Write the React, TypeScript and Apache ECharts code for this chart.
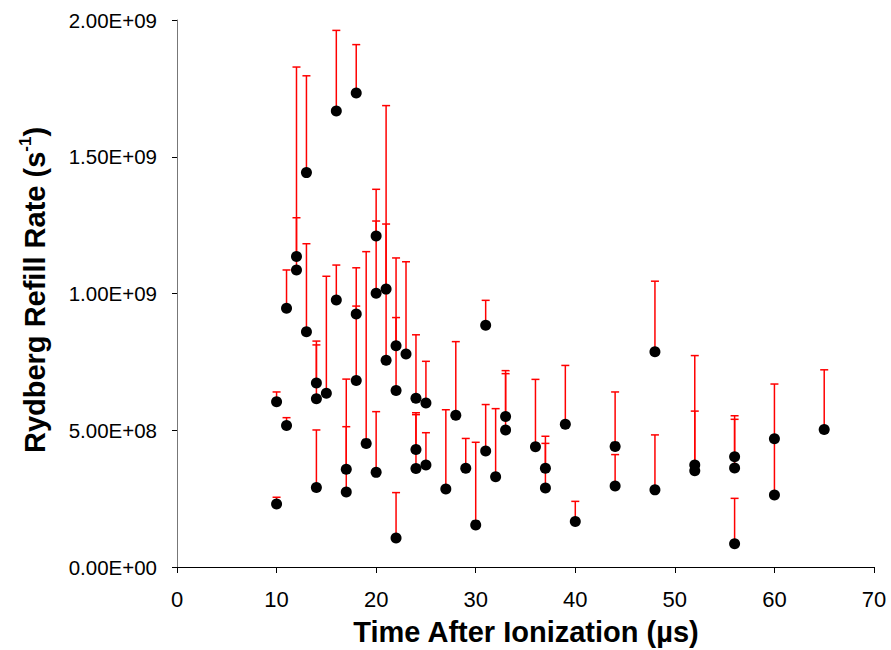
import React, { useEffect, useRef } from "react";
import * as echarts from "echarts";

const xValues = [
  10, 10, 11, 11, 12, 12, 13, 13, 14, 14, 14, 15, 16, 16, 17, 17, 18, 18, 18, 19,
  20, 20, 20, 21, 21, 22, 22, 22, 23, 24, 24, 24, 25, 25, 27, 28, 29, 30, 31, 31,
  32, 33, 33, 36, 37, 37, 39, 40, 44, 44, 48, 48, 52, 52, 56, 56, 56, 60, 60, 65,
];
const rateValues = [
  6.04e8, 2.3e8, 9.46e8, 5.17e8, 1.135e9, 1.086e9, 1.442e9, 8.6e8, 6.73e8, 6.15e8,
  2.91e8, 6.35e8, 1.667e9, 9.76e8, 3.57e8, 2.74e8, 1.733e9, 9.25e8, 6.82e8, 4.52e8,
  1.21e9, 1.001e9, 3.46e8, 1.016e9, 7.56e8, 8.09e8, 6.45e8, 1.06e8, 7.79e8, 6.17e8,
  4.3e8, 3.6e8, 6.0e8, 3.73e8, 2.85e8, 5.55e8, 3.61e8, 1.54e8, 8.84e8, 4.24e8,
  3.3e8, 5.5e8, 5.01e8, 4.4e8, 3.61e8, 2.89e8, 5.22e8, 1.66e8, 4.41e8, 2.96e8,
  7.87e8, 2.82e8, 3.73e8, 3.52e8, 4.03e8, 3.62e8, 0.85e8, 4.69e8, 2.63e8, 5.03e8,
];
const upperValues = [
  6.4e8, 2.55e8, 1.086e9, 5.46e8, 1.277e9, 1.828e9, 1.796e9, 1.182e9, 8.26e8, 8.12e8,
  5.01e8, 1.063e9, 1.962e9, 1.104e9, 5.13e8, 6.87e8, 1.91e9, 9.54e8, 1.094e9, 1.153e9,
  1.381e9, 1.265e9, 5.68e8, 1.687e9, 1.254e9, 1.13e9, 9.12e8, 2.72e8, 1.116e9, 8.49e8,
  5.64e8, 5.57e8, 7.52e8, 4.91e8, 5.75e8, 8.24e8, 4.7e8, 4.56e8, 9.75e8, 5.94e8,
  5.79e8, 7.18e8, 7.07e8, 6.86e8, 4.78e8, 4.52e8, 7.37e8, 2.4e8, 6.4e8, 4.11e8,
  1.045e9, 4.83e8, 7.73e8, 5.7e8, 5.53e8, 5.4e8, 2.51e8, 6.69e8, 4.69e8, 7.21e8,
];

const X_MIN = 0;
const X_MAX = 70;
const X_STEP = 10;
const Y_MIN = 0;
const Y_MAX = 2e9;
const Y_STEP = 5e8;

const xTitle = "Time After Ionization (µs)";

const FONT = "'Liberation Sans', Arial, Helvetica, sans-serif";

function sci(v: number): string {
  if (v === 0) return "0.00E+00";
  const e = Math.floor(Math.log10(Math.abs(v)) + 1e-9);
  const m = v / Math.pow(10, e);
  const sign = e < 0 ? "-" : "+";
  return m.toFixed(2) + "E" + sign + String(Math.abs(e)).padStart(2, "0");
}

export default function App() {
  const ref = useRef<HTMLDivElement>(null);

  useEffect(() => {
    if (!ref.current) return;
    const chart = echarts.init(ref.current, null, { renderer: "svg" });

    const points = xValues.map((x, i) => [x, rateValues[i]]);
    const bars = xValues.map((x, i) => [x, rateValues[i], upperValues[i]]);

    chart.setOption({
      animation: false,
      backgroundColor: "#ffffff",
      grid: { left: 177, right: 17, top: 20, bottom: 83, containLabel: false },
      xAxis: {
        type: "value",
        min: X_MIN,
        max: X_MAX,
        interval: X_STEP,
        axisLine: { show: true, onZero: false, lineStyle: { color: "#000000", width: 1 } },
        axisTick: { show: true, inside: false, length: 6, lineStyle: { color: "#000000" } },
        axisLabel: { color: "#000000", fontSize: 22, fontFamily: FONT, margin: 21 },
        splitLine: { show: false },
      },
      yAxis: {
        type: "value",
        min: Y_MIN,
        max: Y_MAX,
        interval: Y_STEP,
        axisLine: { show: true, onZero: false, lineStyle: { color: "#777777", width: 1 } },
        axisTick: { show: true, inside: false, length: 5, lineStyle: { color: "#000000" } },
        axisLabel: { color: "#000000", fontSize: 20.5, fontFamily: FONT, margin: 20, formatter: (v: number) => sci(v) },
        splitLine: { show: false },
      },
      graphic: [
        {
          type: "text",
          x: 526,
          y: 632,
          style: {
            text: xTitle,
            font: `bold 29px ${FONT}`,
            fill: "#000000",
            align: "center",
            verticalAlign: "middle",
          },
        },
        {
          type: "text",
          x: 33,
          y: 290,
          rotation: Math.PI / 2,
          style: {
            text: "{a|Rydberg Refill Rate (s}{sup|-1}{a|)}",
            align: "center",
            verticalAlign: "middle",
            rich: {
              a: { fontFamily: FONT, fontWeight: "bold", fontSize: 29, fill: "#000000", lineHeight: 32, verticalAlign: "bottom" },
              sup: { fontFamily: FONT, fontWeight: "bold", fontSize: 17, fill: "#000000", lineHeight: 17, verticalAlign: "top" },
            },
          },
        },
      ],
      series: [
        {
          type: "custom",
          z: 2,
          data: bars,
          encode: { x: 0, y: [1, 2] },
          renderItem: (params: any, api: any) => {
            const x = api.value(0);
            const lo = api.coord([x, api.value(1)]);
            const hi = api.coord([x, api.value(2)]);
            const style = { stroke: "#FF0000", lineWidth: 1.5 };
            return {
              type: "group",
              children: [
                { type: "line", shape: { x1: lo[0], y1: lo[1], x2: hi[0], y2: hi[1] }, style },
                { type: "line", shape: { x1: hi[0] - 4, y1: hi[1], x2: hi[0] + 4, y2: hi[1] }, style },
              ],
            };
          },
        },
        {
          type: "scatter",
          z: 3,
          data: points,
          symbol: "circle",
          symbolSize: 11,
          itemStyle: { color: "#000000", opacity: 1 },
        },
      ],
    });

    return () => chart.dispose();
  }, []);

  return (
    <div
      ref={ref}
      style={{ position: "fixed", left: 0, top: 0, width: 891, height: 650, background: "#fff" }}
    />
  );
}
